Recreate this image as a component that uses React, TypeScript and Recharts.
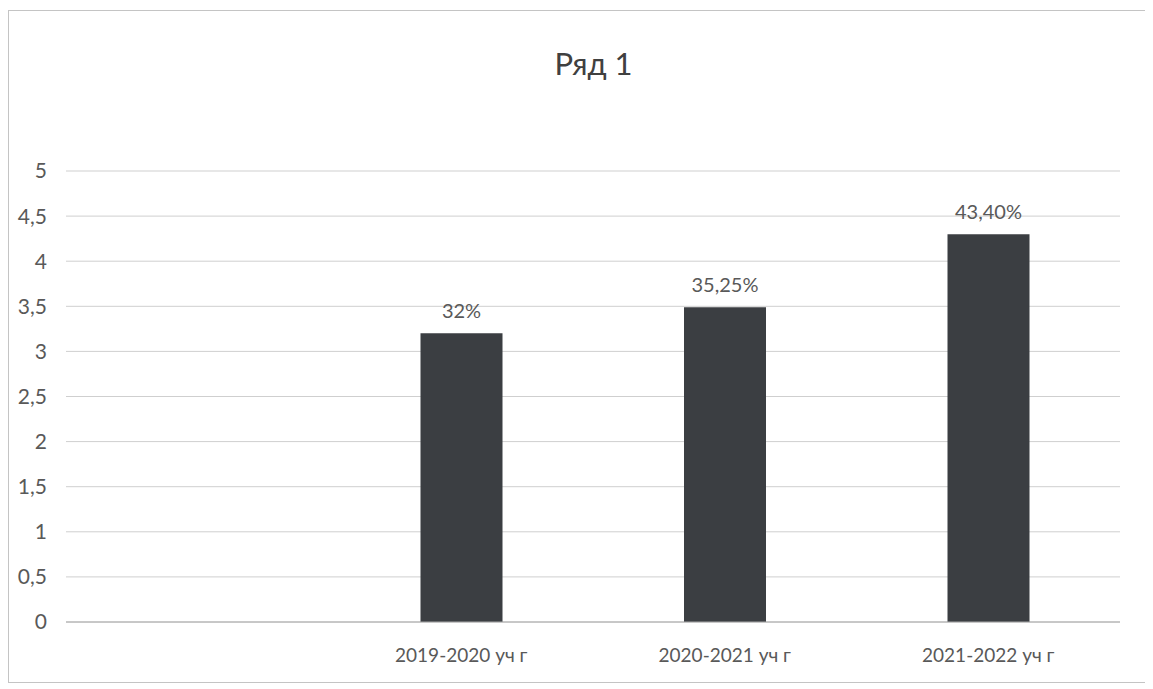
import React from "react";
import { BarChart, Bar, XAxis, YAxis, CartesianGrid, LabelList } from "recharts";

const categories = ["", "2019-2020 уч г", "2020-2021 уч г", "2021-2022 уч г"];
const values: (number | null)[] = [null, 3.2, 3.49, 4.3];
const barLabels = ["", "32%", "35,25%", "43,40%"];
const yTicks = [0, 0.5, 1, 1.5, 2, 2.5, 3, 3.5, 4, 4.5, 5];

const data = categories.map((c, i) => ({ name: c, value: values[i], label: barLabels[i] }));

const FONT = "Lato, 'Noto Sans', sans-serif";
const TEXT = "#595959";

export default function App() {
  return (
    <div
      style={{
        position: "relative",
        width: 1142,
        height: 673,
        marginTop: 2,
        border: "1px solid #c4c4c4",
        boxSizing: "border-box",
        background: "#fff",
        fontFamily: FONT,
      }}
    >
      <div
        style={{
          position: "absolute",
          left: 57,
          width: 1055,
          top: 33,
          textAlign: "center",
          fontSize: 31,
          color: "#404040",
          fontFamily: FONT,
        }}
      >
        Ряд 1
      </div>
      <BarChart
        width={1140}
        height={671}
        data={data}
        margin={{ top: 160, right: 29, bottom: 0, left: 0 }}
        barSize={82}
      >
        <CartesianGrid horizontal vertical={false} stroke="#cfcfcf" />
        <XAxis
          dataKey="name"
          axisLine={{ stroke: "#a8a8a8" }}
          tickLine={false}
          tickSize={0}
          tickMargin={27}
          height={60}
          tick={{ fill: TEXT, fontSize: 19, fontFamily: FONT }}
          interval={0}
        />
        <YAxis
          domain={[0, 5]}
          ticks={yTicks}
          width={57}
          axisLine={false}
          tickLine={false}
          tickSize={0}
          tickMargin={19}
          tick={{ fill: TEXT, fontSize: 21, fontFamily: FONT }}
          tickFormatter={(v: number) => String(v).replace(".", ",")}
        />
        <Bar dataKey="value" fill="#3b3e42" isAnimationActive={false}>
          <LabelList
            dataKey="label"
            position="top"
            offset={15}
            fill={TEXT}
            fontSize={20}
            fontFamily={FONT}
          />
        </Bar>
      </BarChart>
    </div>
  );
}
